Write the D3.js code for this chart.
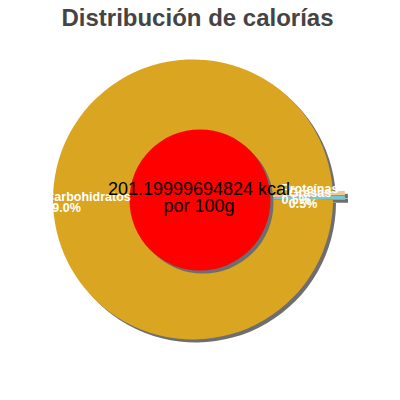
<!DOCTYPE html>
<html>
<head>
<meta charset="utf-8">
<script src="https://cdn.jsdelivr.net/npm/d3@7"></script>
<style>
  body { margin: 0; background: #fff; }
  svg { display: block; }
</style>
</head>
<body>
<svg id="chart" width="400" height="400"></svg>
<script>
// data
const categories = ["Carbohidratos", "Proteínas", "Grasas"];
const percents = [99.0, 0.5, 0.5];
const energyKcal = "201.19999694824";
const titleText = "Distribución de calorías";

const svg = d3.select("#chart");
const cx = 193, cy = 199.5, radius = 140;
const shadowDx = 3, shadowDy = 3;

const color = d3.scaleOrdinal()
  .domain(categories)
  .range(["#DAA520", "#F0C896", "#78C8D2"]);

// pie starts just below 3 o'clock so the small slices sit on the right
const start = 90.2 * Math.PI / 180;
const pie = d3.pie().sort(null).value(d => d.value)
  .startAngle(start).endAngle(start + 2 * Math.PI);
const slices = pie(categories.map((c, i) => ({ name: c, value: percents[i] })));

const arc = d3.arc().innerRadius(0).outerRadius(radius);
const labelArc = d3.arc().innerRadius(radius * 0.75).outerRadius(radius * 0.75);

function explode(d) {
  return d.data.name == "Carbohidratos" ? 0 : 12;
}
function shift(d) {
  const mid = (d.startAngle + d.endAngle) / 2;
  const o = explode(d);
  return [Math.sin(mid) * o, -Math.cos(mid) * o];
}

svg.append("text")
  .attr("x", 197.5)
  .attr("y", 26)
  .attr("text-anchor", "middle")
  .style("font-family", "'Liberation Sans', Arial, sans-serif")
  .style("font-weight", "bold")
  .style("font-size", "24px")
  .style("fill", "#444")
  .text(titleText);

const pieG = svg.append("g").attr("transform", `translate(${cx},${cy})`);

// shadows first
pieG.selectAll("path.shadow")
  .data(slices)
  .join("path")
  .attr("class", "shadow")
  .attr("d", arc)
  .attr("transform", d => {
    const s = shift(d);
    return `translate(${s[0] + shadowDx},${s[1] + shadowDy})`;
  })
  .attr("fill", "#6e6e6e");

pieG.selectAll("path.slice")
  .data(slices)
  .join("path")
  .attr("class", "slice")
  .attr("d", arc)
  .attr("transform", d => `translate(${shift(d)})`)
  .attr("fill", d => color(d.data.name));

// red centre disc
const discX = 200, discY = 200, discR = 70.5;
svg.append("circle")
  .attr("cx", discX + shadowDx)
  .attr("cy", discY + shadowDy)
  .attr("r", discR)
  .attr("fill", "#6e6e6e");
svg.append("circle")
  .attr("cx", discX)
  .attr("cy", discY)
  .attr("r", discR)
  .attr("fill", "#FF0000");

// slice labels: two left-aligned lines, block centred on the centroid
const fmt = d3.format(".1f");
slices.forEach(d => {
  const c = labelArc.centroid(d);
  const s = shift(d);
  const x = cx + c[0] + s[0];
  const y = cy + c[1] + s[1];
  const t = svg.append("text")
    .style("font-family", "'Liberation Sans', Arial, sans-serif")
    .style("font-weight", "bold")
    .style("font-size", "12.5px")
    .style("fill", "#fff");
  const l1 = t.append("tspan").attr("y", y - 1.5).text(d.data.name);
  const l2 = t.append("tspan").attr("y", y + 9.5).text(fmt(d.data.value) + "%");
  const w = Math.max(l1.node().getComputedTextLength(), l2.node().getComputedTextLength());
  l1.attr("x", x - w / 2);
  l2.attr("x", x - w / 2);
});

const centre = svg.append("text")
  .attr("text-anchor", "middle")
  .style("font-family", "'Liberation Sans', Arial, sans-serif")
  .style("font-size", "18px")
  .style("fill", "#000");
centre.append("tspan").attr("x", 199).attr("y", 195).text(energyKcal + " kcal");
centre.append("tspan").attr("x", 199).attr("y", 212).text("por 100g");
</script>
</body>
</html>
